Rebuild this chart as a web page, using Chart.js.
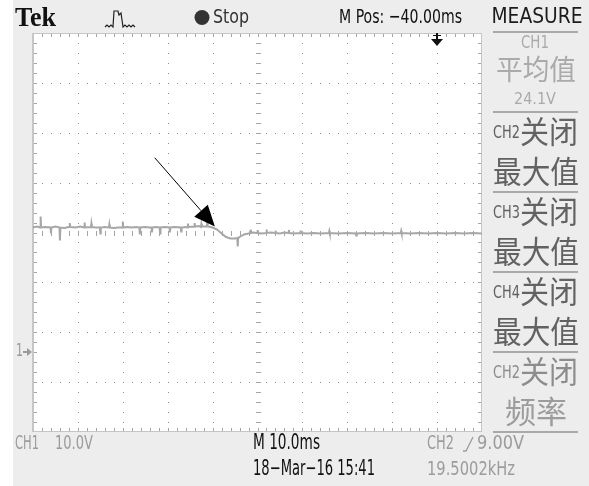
<!DOCTYPE html>
<html>
<head>
<meta charset="utf-8">
<script src="https://cdn.jsdelivr.net/npm/chart.js@4/dist/chart.umd.min.js"></script>
<style>
  html, body { margin: 0; padding: 0; background: #ffffff; }
  #wrap { width: 589px; height: 486px; }
</style>
</head>
<body>
<div id="wrap"><canvas id="scope" width="589" height="486"></canvas></div>
<script>
// CH1 record: time relative to the trigger (ms) and sampled voltage (V)
const timeMs = [
  -90, -89.2, -88.4, -88.3, -88.2, -87.2, -86.1, -86.0, -85.9, -85.0,
  -84.1, -84.0, -83.9, -83.0, -82.0, -81.9, -81.8, -81.7, -80.5, -79.5,
  -78.6, -78.5, -78.4, -77.1, -77.0, -76.9, -76.0, -75.1, -75.0, -74.9,
  -74.0, -73.1, -73.0, -72.9, -72.0, -71.0, -70.1, -70.0, -69.9, -69.0,
  -68.0, -67.0, -66.3, -66.2, -66.1, -65.0, -64.0, -63.6, -63.5, -63.4,
  -62.5, -61.8, -61.7, -61.6, -60.5, -59.6, -59.5, -59.4, -58.5, -57.1,
  -57.0, -56.9, -56.0, -55.6, -55.5, -55.4, -54.1, -54.0, -53.9, -53.0,
  -52.6, -52.5, -52.4, -51.3, -51.2, -51.1, -50.5, -50.0, -49.0, -48.0,
  -47.0, -46.0, -45.0, -44.5, -44.4, -44.3, -44.0, -43.0, -42.0, -41.6,
  -41.5, -41.4, -41.0, -40.1, -40.0, -39.9, -39.0, -38.1, -38.0, -37.9,
  -37.0, -36.1, -36.0, -35.9, -35.0, -34.0, -33.1, -33.0, -32.9, -32.0,
  -30.5, -30.4, -30.3, -29.0, -27.5, -26.0, -24.1, -24.0, -23.9, -22.0,
  -20.0, -18.1, -18.0, -17.9, -16.0, -14.0, -12.0, -10.0, -8.1, -8.0,
  -7.9, -6.0, -4.0, -2.0, 0.0, 2.0, 4.0, 6.0, 8.0, 10.0
];
const ch1Volts = [
  25.0, 25.2, 25.0, 27.2, 25.0, 25.1, 25.0, 23.8, 25.0, 25.2,
  25.0, 22.4, 25.0, 24.9, 25.1, 25.1, 25.9, 25.1, 25.0, 25.2,
  25.0, 26.0, 25.0, 25.1, 25.8, 25.1, 25.0, 25.0, 23.8, 25.0,
  25.1, 25.0, 25.6, 25.0, 24.9, 25.0, 25.0, 26.2, 25.0, 25.1,
  25.0, 25.1, 25.0, 23.6, 25.0, 25.1, 25.0, 25.0, 24.0, 25.0,
  25.1, 25.0, 23.8, 25.0, 25.1, 25.0, 24.0, 25.0, 25.1, 25.0,
  24.2, 25.0, 25.1, 25.0, 25.8, 25.1, 25.2, 25.9, 25.2, 25.3,
  25.1, 25.7, 25.2, 25.2, 25.9, 25.2, 25.1, 25.0, 24.6, 23.8,
  23.1, 22.8, 22.8, 22.9, 21.2, 22.9, 23.1, 23.6, 23.8, 23.9,
  24.6, 23.9, 24.0, 23.9, 24.5, 23.9, 23.8, 23.9, 24.6, 23.9,
  24.0, 23.9, 24.4, 23.9, 23.8, 24.0, 23.9, 24.5, 23.9, 23.8,
  23.9, 24.4, 23.9, 23.8, 23.9, 23.8, 23.9, 24.3, 23.9, 23.8,
  23.9, 23.8, 23.4, 23.8, 23.9, 23.8, 23.9, 23.8, 23.9, 24.3,
  23.9, 23.8, 23.9, 23.8, 23.9, 23.8, 23.9, 23.8, 23.9, 23.8
];

// Graticule: 10 divisions of 10 ms, 8 divisions of 10 V (CH1 offset -0.4 div)
const timeDivisions = [-90, -80, -70, -60, -50, -40, -30, -20, -10, 0, 10];
const voltDivisions = [-16, -6, 4, 14, 24, 34, 44, 54, 64];
const timeCenter = -40;
const voltCenter = 24;
const minorTimeStep = 2;
const minorVoltStep = 2;

// Readouts
const headerTexts = { brand: 'Tek', state: 'Stop', position: 'M Pos: \u221240.00ms' };
const measureTitle = 'MEASURE';
const measureSlots = [
  { ch: 'CH1', name: '\u5e73\u5747\u503c', value: '24.1V', off: false },
  { ch: 'CH2', name: '\u6700\u5927\u503c', off: true },
  { ch: 'CH3', name: '\u6700\u5927\u503c', off: true },
  { ch: 'CH4', name: '\u6700\u5927\u503c', off: true },
  { ch: 'CH2', name: '\u9891\u7387', off: true, dim: true }
];
const offWord = '\u5173\u95ed';
const footerTexts = {
  ch1Scale: ['CH1', '10.0V'],
  timebase: 'M 10.0ms',
  trigger: ['CH2', '9.00V'],
  date: '18\u2212Mar\u221216 15:41',
  freq: '19.5002kHz'
};

// Pointer drawn onto the screen (data units: ms, V)
const pointer = { from: { t: -62.9, v: 39.0 }, to: { t: -49.5, v: 25.2 } };

const NARROW = '"Liberation Sans Narrow", "DejaVu Sans Condensed", "Liberation Sans", sans-serif';
const CJK = '"Noto Sans CJK SC", "Noto Sans CJK JP", sans-serif';

function put(ctx, str, x, y, size, color, o = {}) {
  ctx.save();
  ctx.font = (o.weight || 'normal') + ' ' + size + 'px ' + (o.family || NARROW);
  ctx.fillStyle = color;
  ctx.textAlign = o.align || 'left';
  ctx.textBaseline = 'middle';
  if (o.w) ctx.fillText(str, x, y, o.w); else ctx.fillText(str, x, y);
  ctx.restore();
}

const scopeScreen = {
  id: 'scopeScreen',
  beforeDraw(chart) {
    const { ctx, chartArea: a } = chart;
    ctx.save();
    ctx.fillStyle = '#ededed';
    ctx.fillRect(0, 0, chart.width, chart.height);
    ctx.fillStyle = '#ffffff';
    ctx.fillRect(0, 0, 13, chart.height);
    ctx.fillRect(a.left, a.top, a.right - a.left, a.bottom - a.top);
    ctx.restore();
  },
  beforeDatasetsDraw(chart) {
    const { ctx, chartArea: a, scales: { x, y } } = chart;
    const tMin = timeDivisions[0], tMax = timeDivisions[timeDivisions.length - 1];
    const vMin = voltDivisions[0], vMax = voltDivisions[voltDivisions.length - 1];
    ctx.save();
    // dotted division lines
    ctx.fillStyle = '#8e8e8e';
    timeDivisions.slice(1, -1).forEach(t => {
      if (t === timeCenter) return;
      const px = Math.round(x.getPixelForValue(t));
      for (let v = vMin + minorVoltStep; v < vMax; v += minorVoltStep) {
        ctx.fillRect(px, Math.round(y.getPixelForValue(v)), 1, 1);
      }
    });
    voltDivisions.slice(1, -1).forEach(v => {
      if (v === voltCenter) return;
      const py = Math.round(y.getPixelForValue(v));
      for (let t = tMin + minorTimeStep; t < tMax; t += minorTimeStep) {
        ctx.fillRect(Math.round(x.getPixelForValue(t)), py, 1, 1);
      }
    });
    // centre crosshair dashes
    ctx.fillStyle = '#a4a4a4';
    const cx = Math.round(x.getPixelForValue(timeCenter));
    const cy = Math.round(y.getPixelForValue(voltCenter));
    for (let v = vMin + minorVoltStep; v < vMax; v += minorVoltStep) {
      ctx.fillRect(cx - 2, Math.round(y.getPixelForValue(v)), 5, 1);
    }
    for (let t = tMin + minorTimeStep; t < tMax; t += minorTimeStep) {
      ctx.fillRect(Math.round(x.getPixelForValue(t)), cy - 2, 1, 5);
    }
    // edge ticks
    for (let t = tMin + minorTimeStep; t < tMax; t += minorTimeStep) {
      const px = Math.round(x.getPixelForValue(t));
      ctx.fillRect(px, a.top, 1, 4);
      ctx.fillRect(px, a.bottom - 4, 1, 4);
    }
    for (let v = vMin + minorVoltStep; v < vMax; v += minorVoltStep) {
      const py = Math.round(y.getPixelForValue(v));
      ctx.fillRect(a.left, py, 4, 1);
      ctx.fillRect(a.right - 4, py, 4, 1);
    }
    // frame
    ctx.strokeStyle = '#c6c6c6';
    ctx.lineWidth = 1;
    ctx.strokeRect(a.left + 0.5, a.top + 0.5, a.right - a.left - 1, a.bottom - a.top - 1);
    ctx.fillStyle = '#c6c6c6';
    ctx.fillRect(a.left - 1, a.top, 2, a.bottom - a.top);
    ctx.restore();
  },
  afterDatasetsDraw(chart) {
    const { ctx, chartArea: a, scales: { x, y } } = chart;
    ctx.save();
    // pointer arrow
    const x0 = x.getPixelForValue(pointer.from.t), y0 = y.getPixelForValue(pointer.from.v);
    const x1 = x.getPixelForValue(pointer.to.t), y1 = y.getPixelForValue(pointer.to.v);
    const len = Math.hypot(x1 - x0, y1 - y0);
    const ux = (x1 - x0) / len, uy = (y1 - y0) / len;
    const head = 21, half = 9;
    const bx = x1 - ux * head, by = y1 - uy * head;
    ctx.strokeStyle = '#000000';
    ctx.lineWidth = 1;
    ctx.beginPath();
    ctx.moveTo(x0, y0);
    ctx.lineTo(bx, by);
    ctx.stroke();
    ctx.fillStyle = '#000000';
    ctx.beginPath();
    ctx.moveTo(x1, y1);
    ctx.lineTo(bx - uy * half, by + ux * half);
    ctx.lineTo(bx + uy * half, by - ux * half);
    ctx.closePath();
    ctx.fill();
    // trigger point marker
    const tx = Math.round(x.getPixelForValue(0));
    ctx.fillStyle = '#111111';
    ctx.fillRect(tx - 1, a.top, 2, 8);
    ctx.fillRect(tx - 4, a.top + 2, 8, 1);
    ctx.beginPath();
    ctx.moveTo(tx - 6, a.top + 6);
    ctx.lineTo(tx + 6, a.top + 6);
    ctx.lineTo(tx, a.top + 13);
    ctx.closePath();
    ctx.fill();
    // CH1 ground marker
    const gy = Math.round(y.getPixelForValue(0));
    put(ctx, '1', 16, gy, 17, '#9a9a9a', { w: 7 });
    ctx.fillStyle = '#9a9a9a';
    ctx.fillRect(23, gy - 1, 6, 2);
    ctx.beginPath();
    ctx.moveTo(27, gy - 4);
    ctx.lineTo(32, gy);
    ctx.lineTo(27, gy + 4);
    ctx.closePath();
    ctx.fill();
    ctx.restore();
  },
  afterDraw(chart) {
    const { ctx } = chart;
    ctx.save();
    // header
    put(ctx, headerTexts.brand, 15, 19, 27, '#111111', { weight: 'bold', family: '"Liberation Serif", "DejaVu Serif", serif', w: 41 });
    ctx.strokeStyle = '#222222';
    ctx.lineWidth = 1.2;
    ctx.beginPath();
    ctx.moveTo(105, 27); ctx.lineTo(107, 25); ctx.lineTo(109, 27); ctx.lineTo(111, 25); ctx.lineTo(113, 27);
    ctx.lineTo(114, 11); ctx.lineTo(118, 11); ctx.lineTo(119, 15); ctx.lineTo(121, 13); ctx.lineTo(123, 27);
    ctx.lineTo(125, 25); ctx.lineTo(127, 27); ctx.lineTo(129, 25); ctx.lineTo(131, 27); ctx.lineTo(133, 25); ctx.lineTo(135, 27);
    ctx.stroke();
    ctx.fillStyle = '#333333';
    ctx.beginPath();
    ctx.arc(202, 17.5, 7.5, 0, Math.PI * 2);
    ctx.fill();
    put(ctx, headerTexts.state, 213, 18, 20, '#333333', { w: 36 });
    put(ctx, headerTexts.position, 339, 18, 20, '#111111', { w: 123 });

    // measurement menu
    put(ctx, measureTitle, 537, 18, 21, '#1c1c1c', { align: 'center', w: 91 });
    ctx.fillStyle = '#a9a9a9';
    for (let i = 0; i < 6; i++) ctx.fillRect(493, 31 + i * 80, 85, 2);
    measureSlots.forEach((s, i) => {
      const top = 32 + i * 80;
      if (!s.off) {
        const c = '#aaaaaa';
        put(ctx, s.ch, 535, top + 11, 18, c, { align: 'center', w: 28 });
        put(ctx, s.name, 536, top + 37, 28, c, { family: CJK, align: 'center', w: 80 });
        put(ctx, s.value, 535, top + 68, 16, c, { align: 'center', w: 42 });
      } else {
        const c = s.dim ? '#8c8c8c' : '#626262';
        const c2 = s.dim ? '#9c9c9c' : '#626262';
        put(ctx, s.ch, 493, top + 21, 18, c, { w: 27 });
        put(ctx, offWord, 520, top + 19, 31, c, { family: CJK, w: 58 });
        put(ctx, s.name, 536, top + 59, 31, c2, { family: CJK, align: 'center', w: 86 });
      }
    });

    // footer
    const g = '#9c9c9c';
    put(ctx, footerTexts.ch1Scale[0], 15, 444, 20, g, { w: 24 });
    put(ctx, footerTexts.ch1Scale[1], 55, 444, 20, g, { w: 38 });
    put(ctx, footerTexts.timebase, 253, 444, 21, '#111111', { w: 67 });
    put(ctx, footerTexts.trigger[0], 427, 444, 20, g, { w: 27 });
    ctx.strokeStyle = g;
    ctx.lineWidth = 1.3;
    ctx.beginPath();
    ctx.moveTo(463, 451); ctx.lineTo(466, 451); ctx.lineTo(473, 437);
    ctx.stroke();
    put(ctx, footerTexts.trigger[1], 477, 444, 20, g, { w: 47 });
    put(ctx, footerTexts.date, 253, 470, 21, '#111111', { w: 122 });
    put(ctx, footerTexts.freq, 427, 470, 20, g, { w: 88 });
    ctx.restore();
  }
};

new Chart(document.getElementById('scope'), {
  type: 'line',
  data: {
    datasets: [{
      label: 'CH1',
      data: timeMs.map((t, i) => ({ x: t, y: ch1Volts[i] })),
      borderColor: '#a7a7a7',
      borderWidth: 2,
      pointRadius: 0,
      tension: 0,
      fill: false
    }]
  },
  options: {
    responsive: false,
    animation: false,
    devicePixelRatio: 1,
    layout: { padding: { left: 33, top: 33, right: 107, bottom: 54 } },
    plugins: { legend: { display: false }, tooltip: { enabled: false } },
    scales: {
      x: { type: 'linear', display: false, min: timeDivisions[0], max: timeDivisions[timeDivisions.length - 1] },
      y: { type: 'linear', display: false, min: voltDivisions[0], max: voltDivisions[voltDivisions.length - 1] }
    }
  },
  plugins: [scopeScreen]
});
</script>
</body>
</html>
